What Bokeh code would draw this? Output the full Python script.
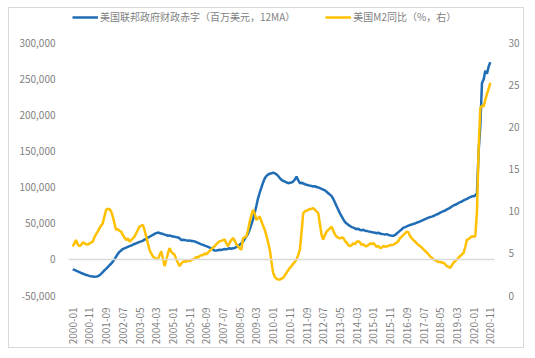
import math
from bokeh.plotting import figure
from bokeh.layouts import column
from bokeh.models import (Range1d, LinearAxis, FixedTicker, Span, Legend, LegendItem,
                          NumeralTickFormatter, InlineStyleSheet)
from bokeh.embed import file_html
from bokeh.resources import INLINE

# ---- data (monthly, starting 2000-01) ----
# US federal deficit, 12-month moving average, million USD
deficit = [
    # 2000
    -13700, -14500, -15500, -16500, -17500, -18700, -19500, -20500, -21500, -22000, -22800, -23300,
    # 2001
    -23500, -24000, -23800, -23300, -22000, -20000, -17500, -15000, -13000, -10500, -8000, -5900,
    # 2002
    -3000, 0, 4000, 7800, 10500, 12500, 14600, 15500, 16500, 17500, 18500, 19200,
    # 2003
    20500, 21500, 22500, 23500, 24500, 25200, 26000, 27500, 29000, 30500, 31500, 32900,
    # 2004
    34000, 35500, 36500, 37400, 36800, 36000, 35500, 34500, 34000, 32900, 33500, 32500,
    # 2005
    32000, 31500, 31000, 30500, 29500, 27000, 27500, 27000, 26500, 26000, 26500, 25500,
    # 2006
    25500, 25000, 24000, 23000, 22000, 21000, 20500, 19200, 18500, 17500, 16500, 15500,
    # 2007
    14000, 12300, 12500, 13000, 13500, 13000, 14000, 14600, 14000, 15000, 15500, 15000,
    # 2008
    15500, 16000, 17500, 19000, 20500, 22500, 25000, 28400, 32000, 36000, 42000, 48900,
    # 2009
    56000, 65000, 75000, 85300, 93000, 100000, 107000, 112700, 116000, 118000, 119000, 119600,
    # 2010
    120500, 119500, 118200, 116000, 113000, 110500, 109000, 108000, 107000, 105900, 106500, 107000,
    # 2011
    108200, 111000, 115000, 110000, 105900, 106500, 105500, 104500, 103700, 103000, 102500, 102000,
    # 2012
    101400, 101800, 100500, 100000, 99000, 98000, 96800, 96000, 94000, 92000, 90000, 88000,
    # 2013
    84000, 79000, 74000, 69000, 64000, 60000, 55700, 52000, 50000, 48000, 46500, 45000,
    # 2014
    44200, 43000, 42000, 42800, 41000, 40500, 41200, 40000, 39700, 39000, 38500, 38000,
    # 2015
    37500, 37000, 36500, 37200, 36000, 35500, 35200, 34500, 35200, 34000, 33500, 33000,
    # 2016
    32900, 34000, 36000, 38000, 40000, 42000, 44200, 45000, 46000, 47000, 48000, 48500,
    # 2017
    49500, 50000, 51100, 52000, 53000, 54000, 55000, 56000, 57000, 58000, 59000, 59500,
    # 2018
    60300, 61500, 62500, 63500, 65000, 66000, 67000, 68000, 69500, 70500, 72000, 73500,
    # 2019
    75000, 76000, 77000, 78500, 79500, 80500, 82000, 83000, 84000, 85500, 86500, 87700,
    # 2020
    87700, 89000, 92000, 150000, 185000, 245000, 250000, 262000, 258000, 268000, 274000,
]

# US M2 year-over-year, %
m2_yoy = [
    # 2000
    5.85, 6.2, 6.6, 6.1, 5.85, 6.0, 6.3, 6.25, 6.1, 6.05, 6.2, 6.3,
    # 2001
    6.4, 6.9, 7.3, 7.6, 8.0, 8.3, 8.6, 9.4, 10.2, 10.3, 10.3, 10.0,
    # 2002
    9.4, 8.6, 7.8, 7.9, 7.7, 7.6, 7.2, 6.9, 6.6, 6.8, 6.4, 6.6,
    # 2003
    6.8, 7.0, 7.4, 7.8, 8.2, 8.3, 8.4, 7.8, 7.0, 6.2, 5.45, 5.0,
    # 2004
    4.65, 4.5, 4.4, 4.3, 4.8, 5.25, 4.4, 3.5, 4.2, 5.0, 5.65, 5.2,
    # 2005
    5.0, 4.85, 4.3, 3.9, 3.5, 3.8, 4.0, 4.1, 4.0, 4.2, 4.1, 4.2,
    # 2006
    4.3, 4.4, 4.6, 4.5, 4.7, 4.8, 4.8, 5.0, 4.9, 5.1, 5.3, 5.5,
    # 2007
    5.7, 5.85, 6.1, 6.3, 6.45, 6.5, 6.6, 6.65, 6.2, 5.85, 6.3, 6.6,
    # 2008
    6.85, 6.5, 6.1, 5.85, 5.6, 5.45, 6.85, 6.9, 7.05, 7.8, 8.8, 9.6,
    # 2009
    10.2, 9.7, 9.0, 9.2, 9.4, 8.8, 8.3, 7.8, 7.1, 6.3, 5.45, 4.0,
    # 2010
    2.7, 2.2, 2.0, 1.9, 1.9, 2.0, 2.1, 2.4, 2.7, 3.0, 3.3, 3.5,
    # 2011
    3.8, 4.0, 4.3, 4.8, 5.45, 7.5, 9.8, 10.0, 10.1, 10.2, 10.3, 10.3,
    # 2012
    10.4, 10.2, 10.0, 9.8, 8.5, 7.2, 6.65, 7.2, 7.6, 7.8, 8.0, 8.2,
    # 2013
    7.7, 7.25, 7.0, 6.9, 6.8, 6.9, 6.85, 6.5, 6.3, 6.0, 5.85, 6.0,
    # 2014
    6.2, 6.1, 6.4, 6.45, 6.3, 6.0, 6.1, 5.9, 5.85, 6.0, 6.2, 6.1,
    # 2015
    6.25, 6.0, 5.8, 5.9, 5.65, 5.7, 5.9, 5.8, 5.85, 5.9, 6.0, 6.0,
    # 2016
    6.05, 6.2, 6.3, 6.5, 6.85, 7.0, 7.2, 7.4, 7.6, 7.5, 7.05, 6.8,
    # 2017
    6.6, 6.4, 6.2, 6.0, 5.85, 5.7, 5.5, 5.3, 5.1, 4.9, 4.65, 4.5,
    # 2018
    4.3, 4.2, 4.1, 4.0, 4.0, 3.9, 3.9, 3.7, 3.5, 3.4, 3.3, 3.6,
    # 2019
    3.9, 4.1, 4.3, 4.5, 4.7, 4.9, 5.05, 5.8, 6.65, 6.7, 6.9, 7.05,
    # 2020
    7.0, 7.05, 10.0, 17.5, 22.3, 22.6, 22.5, 23.3, 24.0, 24.6, 25.3,
]

tick_labels = [
    "2000-01", "2000-11", "2001-09", "2002-07", "2003-05", "2004-03", "2005-01",
    "2005-11", "2006-09", "2007-07", "2008-05", "2009-03", "2010-01", "2010-11",
    "2011-09", "2012-07", "2013-05", "2014-03", "2015-01", "2015-11", "2016-09",
    "2017-07", "2018-05", "2019-03", "2020-01", "2020-11",
]
left_ticks = [-50000, 0, 50000, 100000, 150000, 200000, 250000, 300000]
right_ticks = [0, 5, 10, 15, 20, 25, 30]

label_deficit = "美国联邦政府财政赤字（百万美元，12MA）"
label_m2 = "美国M2同比（%，右）"

# month index since 2000-01
x = list(range(len(deficit)))
tick_pos = [(int(s[:4]) - 2000) * 12 + int(s[5:]) - 1 for s in tick_labels]

FONT = "Noto Sans CJK SC"
TXT = "#7f7f7f"
BORDER = "#d9d9d9"

# frame extends above the 300,000 level to hold the legend;
# ranges are padded so 300,000 / 30 still sit PAD_PX below the frame top
LEFT_MIN, LEFT_MAX = -50000, 300000
RIGHT_MIN, RIGHT_MAX = 0, 30
PLOT_PX, PAD_PX = 253, 34
left_top = LEFT_MAX + (LEFT_MAX - LEFT_MIN) * PAD_PX / PLOT_PX
right_top = RIGHT_MAX + (RIGHT_MAX - RIGHT_MIN) * PAD_PX / PLOT_PX

p = figure(width=514, height=339, x_range=Range1d(-2.5, 252.5),
           y_range=Range1d(LEFT_MIN, left_top), output_backend="svg",
           toolbar_location=None, min_border_left=59, min_border_right=29,
           min_border_top=1, min_border_bottom=51)
p.outline_line_color = None
p.background_fill_color = "white"
p.border_fill_color = "white"
p.xgrid.grid_line_color = None
p.ygrid.grid_line_color = None
p.stylesheets = [InlineStyleSheet(css=":host { box-shadow: 0 0 0 1px %s; }" % BORDER)]

p.extra_y_ranges = {"m2": Range1d(RIGHT_MIN, right_top)}

# zero line
p.add_layout(Span(location=0, dimension="width", line_color=BORDER, line_width=1.5))

r1 = p.line(x, deficit, line_color="#1F6DB5", line_width=2.5)
r2 = p.line(x, m2_yoy, y_range_name="m2", line_color="#FFC000", line_width=2.5)

def style_axis(ax):
    ax.axis_line_color = None
    ax.major_tick_line_color = None
    ax.minor_tick_line_color = None
    ax.major_label_text_font = FONT
    ax.major_label_text_font_size = "10px"
    ax.major_label_text_color = TXT

yl = p.yaxis[0]
yl.ticker = FixedTicker(ticks=left_ticks)
yl.formatter = NumeralTickFormatter(format="0,0")
style_axis(yl)
yl.major_label_standoff = 7

yr = LinearAxis(y_range_name="m2", ticker=FixedTicker(ticks=right_ticks))
style_axis(yr)
yr.major_label_standoff = 8
p.add_layout(yr, "right")

xa = p.xaxis[0]
xa.ticker = FixedTicker(ticks=tick_pos)
xa.major_label_overrides = {pos: lab for pos, lab in zip(tick_pos, tick_labels)}
xa.major_label_orientation = math.pi / 2
style_axis(xa)
xa.major_label_standoff = 6

legend = Legend(items=[LegendItem(label=label_deficit, renderers=[r1]),
                       LegendItem(label=label_m2, renderers=[r2])],
                orientation="horizontal", location=(4, 271),
                label_text_font=FONT, label_text_font_size="10px",
                label_text_color=TXT, glyph_width=26, glyph_height=12,
                label_standoff=2, spacing=30, padding=0, margin=0,
                border_line_color=None, background_fill_alpha=0)
p.add_layout(legend, "center")

layout = column(p, margin=(8, 0, 0, 9),
                styles={"box-shadow": "0 0 0 1px %s" % BORDER})

open("out.html", "w").write(file_html(layout, INLINE))
